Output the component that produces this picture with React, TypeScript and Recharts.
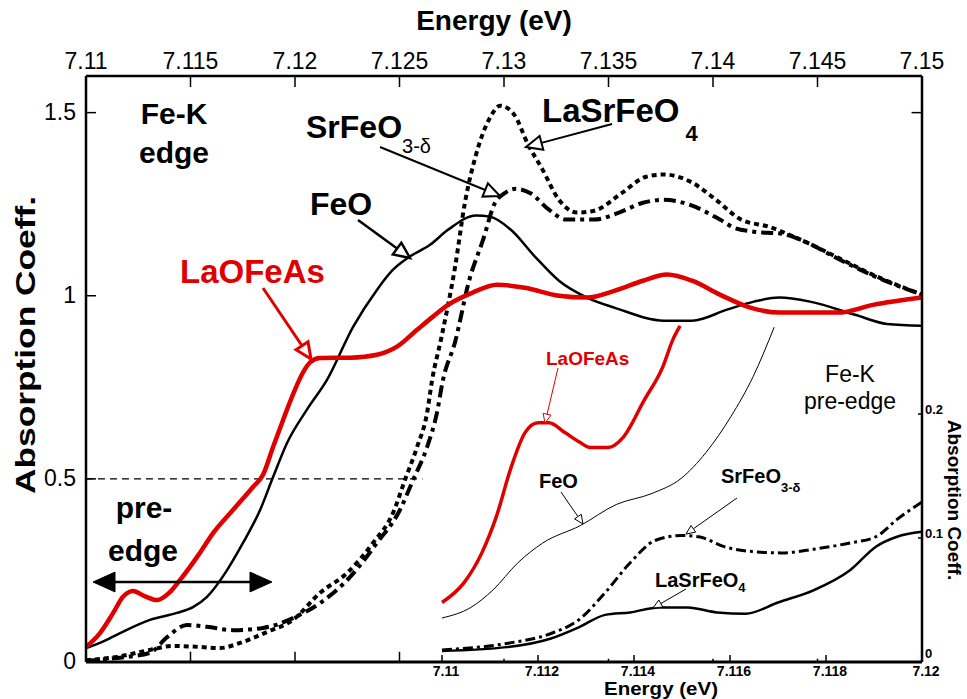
import { ComposedChart, Line, XAxis, YAxis, ReferenceLine } from 'recharts';

const FONT = '"Liberation Sans", Arial, Helvetica, sans-serif';
const RED = '#e00000';

// axis ticks
const edgeTicks = [7.11, 7.115, 7.12, 7.125, 7.13, 7.135, 7.14, 7.145, 7.15];
const muTicks = [0, 0.5, 1, 1.5];
const preEdgeTicks = [7.11, 7.112, 7.114, 7.116, 7.118, 7.12];
const preMuTicks = [0, 0.1, 0.2];

// Fe-K edge spectra: [energy, absorption]
const laofeasEdge = [
  [7.11, 0.041], [7.11067, 0.079], [7.1113, 0.134], [7.11177, 0.178], [7.11225, 0.194],
  [7.1128, 0.18], [7.1134, 0.169], [7.114, 0.19], [7.1145, 0.224], [7.11545, 0.298],
  [7.11608, 0.352], [7.11703, 0.415], [7.11799, 0.478], [7.11847, 0.511], [7.11895, 0.587],
  [7.11943, 0.661], [7.1199, 0.73], [7.12033, 0.785], [7.12072, 0.818], [7.1212, 0.83],
  [7.12263, 0.831], [7.12392, 0.839], [7.12488, 0.861], [7.12584, 0.907], [7.1266, 0.943],
  [7.12732, 0.975], [7.12847, 1.008], [7.12967, 1.03], [7.131, 1.022], [7.13263, 1.0],
  [7.13397, 0.995], [7.13531, 1.014], [7.13665, 1.041], [7.1378, 1.058], [7.139, 1.041],
  [7.14033, 1.003], [7.14182, 0.967], [7.14316, 0.954], [7.14598, 0.954], [7.14766, 0.975],
  [7.15, 0.995],
];
const feoEdge = [
  [7.11, 0.038], [7.11067, 0.052], [7.11163, 0.079], [7.11306, 0.115], [7.11435, 0.134],
  [7.11512, 0.15], [7.11579, 0.178], [7.11675, 0.251], [7.11751, 0.325], [7.11833, 0.415],
  [7.11895, 0.505], [7.11962, 0.598], [7.12057, 0.689], [7.12153, 0.77], [7.12278, 0.915],
  [7.12392, 1.016], [7.12469, 1.071], [7.12541, 1.104], [7.12646, 1.139], [7.12732, 1.18],
  [7.12866, 1.219], [7.12933, 1.216], [7.13033, 1.18], [7.13148, 1.107], [7.13263, 1.041],
  [7.13397, 0.995], [7.13531, 0.967], [7.13766, 0.932], [7.139, 0.932], [7.14067, 0.962],
  [7.14196, 0.984], [7.14316, 0.995], [7.14464, 0.984], [7.1468, 0.948], [7.14833, 0.923],
  [7.15, 0.918],
];
const lasrfeo4Edge = [
  [7.11, 0.005], [7.11148, 0.014], [7.11306, 0.033], [7.11416, 0.044], [7.11545, 0.041],
  [7.11641, 0.038], [7.11737, 0.052], [7.11866, 0.082], [7.1199, 0.115], [7.1212, 0.189],
  [7.12249, 0.243], [7.12373, 0.325], [7.12469, 0.407], [7.12526, 0.497], [7.12584, 0.587],
  [7.12632, 0.68], [7.12656, 0.77], [7.12699, 0.882], [7.12766, 1.079], [7.12813, 1.254],
  [7.12866, 1.385], [7.12933, 1.486], [7.12981, 1.519], [7.13048, 1.495], [7.13115, 1.413],
  [7.13182, 1.347], [7.13263, 1.262], [7.1335, 1.227], [7.13431, 1.232], [7.13565, 1.281],
  [7.1368, 1.325], [7.13766, 1.331], [7.139, 1.309], [7.14014, 1.262], [7.14134, 1.208],
  [7.14263, 1.189], [7.14431, 1.15], [7.14598, 1.104], [7.14766, 1.057], [7.15, 1.003],
];
const srfeo3Edge = [
  [7.11, 0.003], [7.11148, 0.011], [7.11306, 0.025], [7.11388, 0.068], [7.11483, 0.101],
  [7.11579, 0.096], [7.11703, 0.087], [7.11847, 0.093], [7.1199, 0.12], [7.1212, 0.161],
  [7.12263, 0.232], [7.12392, 0.325], [7.12502, 0.415], [7.12565, 0.497], [7.12632, 0.587],
  [7.12679, 0.68], [7.12708, 0.77], [7.12766, 0.874], [7.12833, 1.041], [7.129, 1.153],
  [7.12957, 1.254], [7.13, 1.279], [7.13057, 1.292], [7.13129, 1.279], [7.13215, 1.235],
  [7.13297, 1.208], [7.13431, 1.208], [7.1355, 1.227], [7.13665, 1.254], [7.13766, 1.262],
  [7.139, 1.246], [7.14033, 1.208], [7.141, 1.186], [7.14196, 1.175], [7.1433, 1.169],
  [7.14431, 1.15], [7.14598, 1.101], [7.14766, 1.055], [7.15, 1.003],
];

// pre-edge region, magnified
const laofeasPre = [
  [7.11, 0.048], [7.11046, 0.064], [7.11083, 0.088], [7.11113, 0.117], [7.11144, 0.157],
  [7.11173, 0.185], [7.112, 0.193], [7.11223, 0.193], [7.11256, 0.185], [7.11288, 0.177],
  [7.11308, 0.173], [7.11346, 0.173], [7.11377, 0.181], [7.11421, 0.211], [7.1146, 0.238],
  [7.11481, 0.26], [7.11496, 0.271],
];
const feoPre = [
  [7.11, 0.0355], [7.1106, 0.044], [7.11106, 0.058], [7.11158, 0.08], [7.1121, 0.096],
  [7.11288, 0.11], [7.11363, 0.127], [7.11438, 0.136], [7.11498, 0.148], [7.1155, 0.169],
  [7.11602, 0.198], [7.11648, 0.23], [7.11692, 0.27],
];
const srfeo3Pre = [
  [7.11, 0.0097], [7.11135, 0.015], [7.11227, 0.023], [7.11285, 0.034], [7.1134, 0.056],
  [7.11392, 0.08], [7.11444, 0.098], [7.11498, 0.102], [7.11535, 0.101], [7.11588, 0.093],
  [7.11648, 0.089], [7.11708, 0.088], [7.11775, 0.091], [7.1185, 0.096], [7.11904, 0.101],
  [7.11948, 0.115], [7.12, 0.129],
];
const lasrfeo4Pre = [
  [7.11, 0.0089], [7.11135, 0.012], [7.11227, 0.019], [7.11285, 0.028], [7.1134, 0.038],
  [7.11392, 0.04], [7.11452, 0.044], [7.11512, 0.044], [7.11573, 0.04], [7.11633, 0.039],
  [7.117, 0.048], [7.11775, 0.058], [7.1185, 0.074], [7.11904, 0.093], [7.11948, 0.101],
  [7.12, 0.105],
];

const pts = (rows: number[][]) => rows.map(([e, mu]) => ({ e, mu }));

// plot box
const W = 967;
const H = 699;
const LEFT = 86;
const RIGHT = 922;
const TOP = 76;
const BOTTOM = 662;

// the pre-edge axis spans 7.11..7.12 over the right part of the bottom edge
const PRE_PX_PER_EV = 48000;
const preDomainMin = 7.12 - (RIGHT - LEFT) / PRE_PX_PER_EV;

const TopTick = ({ x, y, payload }: any) => (
  <g>
    <line x1={x} y1={y} x2={x} y2={y + 11} stroke="#000" strokeWidth={1.5} />
    <text x={x} y={y - 7} textAnchor="middle" fontSize={23} fontFamily={FONT} fill="#000">
      {String(payload.value)}
    </text>
  </g>
);

const LeftTick = ({ x, y, payload }: any) => (
  <g>
    <line x1={x} y1={y} x2={x + 10} y2={y} stroke="#000" strokeWidth={1.5} />
    <text x={x - 10} y={y + 7} textAnchor="end" fontSize={23} fontFamily={FONT} fill="#000">
      {String(payload.value)}
    </text>
  </g>
);

const BottomTick = ({ x, y, payload }: any) => (
  <g>
    <line x1={x} y1={y} x2={x} y2={y - 7} stroke="#000" strokeWidth={1.5} />
    <text x={x + 4} y={y + 14} textAnchor="middle" fontSize={14} fontWeight="bold" fontFamily={FONT} fill="#000">
      {String(payload.value)}
    </text>
  </g>
);

// the zero label sits a little higher so it clears the corner energy label
const RightTick = ({ x, y, payload }: any) => (
  <g>
    <line x1={x} y1={y} x2={x - 4} y2={y} stroke="#000" strokeWidth={1.5} />
    <text x={x + 3} y={payload.value === 0 ? y - 4 : y} textAnchor="start" fontSize={13} fontWeight="bold" fontFamily={FONT} fill="#000">
      {String(payload.value)}
    </text>
  </g>
);

const Arrow = ({ x1, y1, x2, y2, color = '#000', width = 2, head = 14, open = true }: any) => {
  const a = Math.atan2(y2 - y1, x2 - x1);
  const hw = head * 0.45;
  const bx = x2 - head * Math.cos(a);
  const by = y2 - head * Math.sin(a);
  const px = -Math.sin(a) * hw;
  const py = Math.cos(a) * hw;
  const tri = `${x2},${y2} ${bx + px},${by + py} ${bx - px},${by - py}`;
  return (
    <g>
      <line x1={x1} y1={y1} x2={bx} y2={by} stroke={color} strokeWidth={width} />
      <polygon points={tri} fill={open ? '#fff' : color} stroke={color} strokeWidth={open ? width : 1} strokeLinejoin="miter" />
    </g>
  );
};

const txt = { fontFamily: FONT, fill: '#000' };

function Annotations() {
  return (
    <svg width={W} height={H} style={{ position: 'absolute', left: 0, top: 0, pointerEvents: 'none' }}>
      {/* axis titles */}
      <text x={494} y={30} textAnchor="middle" fontSize={28} fontWeight="bold" {...txt}>Energy (eV)</text>
      <text
        transform="translate(35,345) rotate(-90)"
        textAnchor="middle" fontSize={28} fontWeight="bold" textLength={298} lengthAdjust="spacingAndGlyphs" {...txt}
      >
        Absorption Coeff.
      </text>
      <text x={661} y={695} textAnchor="middle" fontSize={18} fontWeight="bold" textLength={114} lengthAdjust="spacingAndGlyphs" {...txt}>
        Energy (eV)
      </text>
      <text transform="translate(948,500) rotate(90)" textAnchor="middle" fontSize={19} fontWeight="bold" {...txt}>
        Absorption Coeff.
      </text>

      {/* main panel labels */}
      <text x={174} y={124} textAnchor="middle" fontSize={30} fontWeight="bold" {...txt}>Fe-K</text>
      <text x={174} y={163} textAnchor="middle" fontSize={30} fontWeight="bold" {...txt}>edge</text>
      <text x={144} y={518} textAnchor="middle" fontSize={30} fontWeight="bold" {...txt}>pre-</text>
      <text x={143} y={561} textAnchor="middle" fontSize={30} fontWeight="bold" {...txt}>edge</text>
      <Arrow x1={180} y1={582} x2={93} y2={582} width={2.5} head={22} open={false} />
      <Arrow x1={180} y1={582} x2={272} y2={582} width={2.5} head={22} open={false} />

      <text x={306} y={138} fontSize={32} fontWeight="bold" {...txt}>
        SrFeO<tspan dy={15} fontSize={20} fontWeight="normal">3-δ</tspan>
      </text>
      <Arrow x1={380} y1={147} x2={500} y2={196} width={2} head={16} />
      <text x={310} y={215} fontSize={32} fontWeight="bold" {...txt}>FeO</text>
      <Arrow x1={358} y1={220} x2={410} y2={258} width={2.5} head={16} />
      <text x={180} y={283} fontSize={33} fontWeight="bold" fontFamily={FONT} fill={RED}>LaOFeAs</text>
      <Arrow x1={263} y1={288} x2={311} y2={359} width={3} head={16} color={RED} />
      <text x={542} y={122} fontSize={33} fontWeight="bold" {...txt}>
        LaSrFeO<tspan dx={6} dy={19} fontSize={22}>4</tspan>
      </text>
      <Arrow x1={612} y1={124} x2={526} y2={147} width={2} head={16} />

      {/* pre-edge panel labels */}
      <text x={850} y={382} textAnchor="middle" fontSize={23} {...txt}>Fe-K</text>
      <text x={850} y={409} textAnchor="middle" fontSize={23} {...txt}>pre-edge</text>
      <text x={546} y={365} fontSize={19} fontWeight="bold" fontFamily={FONT} fill={RED}>LaOFeAs</text>
      <Arrow x1={558} y1={368} x2={545} y2={423} width={1} head={9} color={RED} />
      <text x={539} y={488} fontSize={20} fontWeight="bold" {...txt}>FeO</text>
      <Arrow x1={561} y1={492} x2={583} y2={524} width={1} head={9} />
      <text x={721} y={483} fontSize={20} fontWeight="bold" {...txt}>
        SrFeO<tspan dy={9} fontSize={13}>3-δ</tspan>
      </text>
      <Arrow x1={737} y1={498} x2={686} y2={534} width={1} head={9} />
      <text x={655} y={587} fontSize={20} fontWeight="bold" {...txt}>
        LaSrFeO<tspan dy={5} fontSize={13}>4</tspan>
      </text>
      <Arrow x1={686} y1={589} x2={653} y2={608} width={1} head={9} />
    </svg>
  );
}

export default function App() {
  return (
    <div style={{ position: 'absolute', left: 0, top: 0, width: W, height: H, background: '#fff' }}>
      <ComposedChart width={W} height={H} margin={{ top: 0, right: 0, bottom: 0, left: 0 }}>
        <XAxis
          xAxisId="edge" type="number" orientation="top" dataKey="e" height={TOP}
          domain={[7.11, 7.15]} ticks={edgeTicks} allowDataOverflow
          tickSize={0} tickMargin={0} tickLine={false} tick={TopTick}
          axisLine={{ stroke: '#000', strokeWidth: 2.5 }}
        />
        <XAxis
          xAxisId="pre" type="number" orientation="bottom" dataKey="e" height={H - BOTTOM}
          domain={[preDomainMin, 7.12]} ticks={preEdgeTicks} allowDataOverflow
          tickSize={0} tickMargin={0} tickLine={false} tick={BottomTick}
          axisLine={{ stroke: '#000', strokeWidth: 3 }}
        />
        <YAxis
          yAxisId="edge" type="number" orientation="left" width={LEFT}
          domain={[0, 1.6]} ticks={muTicks} allowDataOverflow
          tickSize={0} tickMargin={0} tickLine={false} tick={LeftTick}
          axisLine={{ stroke: '#000', strokeWidth: 2.5 }}
        />
        <YAxis
          yAxisId="pre" type="number" orientation="right" width={W - RIGHT}
          domain={[0, (BOTTOM - TOP) / 1240]} ticks={preMuTicks} allowDataOverflow
          tickSize={0} tickMargin={0} tickLine={false} tick={RightTick}
          axisLine={{ stroke: '#000', strokeWidth: 2.5 }}
        />

        {/* half-step marker */}
        <ReferenceLine
          xAxisId="edge" yAxisId="edge"
          segment={[{ x: 7.11, y: 0.5 }, { x: 7.1261, y: 0.5 }]}
          stroke="#000" strokeWidth={1.2} strokeDasharray="7 5"
        />
        {/* main energy ticks repeated on the lower edge, and right edge tick */}
        {[7.115, 7.12, 7.125].map((e) => (
          <ReferenceLine key={e} xAxisId="edge" yAxisId="edge"
            segment={[{ x: e, y: 0 }, { x: e, y: 0.028 }]} stroke="#000" strokeWidth={1.5} />
        ))}
        {[7.13, 7.135, 7.14, 7.145].map((e) => (
          <ReferenceLine key={e} xAxisId="edge" yAxisId="edge"
            segment={[{ x: e, y: 0 }, { x: e, y: 0.009 }]} stroke="#000" strokeWidth={1.5} />
        ))}
        <ReferenceLine xAxisId="edge" yAxisId="edge"
          segment={[{ x: 7.1495, y: 1.5 }, { x: 7.15, y: 1.5 }]} stroke="#000" strokeWidth={1.5} />

        <Line xAxisId="edge" yAxisId="edge" data={pts(lasrfeo4Edge)} dataKey="mu" type="monotone"
          stroke="#000" strokeWidth={4} strokeDasharray="5 4" dot={false} isAnimationActive={false} />
        <Line xAxisId="edge" yAxisId="edge" data={pts(srfeo3Edge)} dataKey="mu" type="monotone"
          stroke="#000" strokeWidth={4} strokeDasharray="12 5 4 5" dot={false} isAnimationActive={false} />
        <Line xAxisId="edge" yAxisId="edge" data={pts(feoEdge)} dataKey="mu" type="monotone"
          stroke="#000" strokeWidth={2.5} dot={false} isAnimationActive={false} />
        <Line xAxisId="edge" yAxisId="edge" data={pts(laofeasEdge)} dataKey="mu" type="monotone"
          stroke={RED} strokeWidth={4.5} dot={false} isAnimationActive={false} />

        <Line xAxisId="pre" yAxisId="pre" data={pts(feoPre)} dataKey="mu" type="monotone"
          stroke="#000" strokeWidth={1} dot={false} isAnimationActive={false} />
        <Line xAxisId="pre" yAxisId="pre" data={pts(srfeo3Pre)} dataKey="mu" type="monotone"
          stroke="#000" strokeWidth={3} strokeDasharray="10 4 3 4" dot={false} isAnimationActive={false} />
        <Line xAxisId="pre" yAxisId="pre" data={pts(lasrfeo4Pre)} dataKey="mu" type="monotone"
          stroke="#000" strokeWidth={2.5} dot={false} isAnimationActive={false} />
        <Line xAxisId="pre" yAxisId="pre" data={pts(laofeasPre)} dataKey="mu" type="monotone"
          stroke={RED} strokeWidth={3.5} dot={false} isAnimationActive={false} />
      </ComposedChart>
      <Annotations />
    </div>
  );
}
